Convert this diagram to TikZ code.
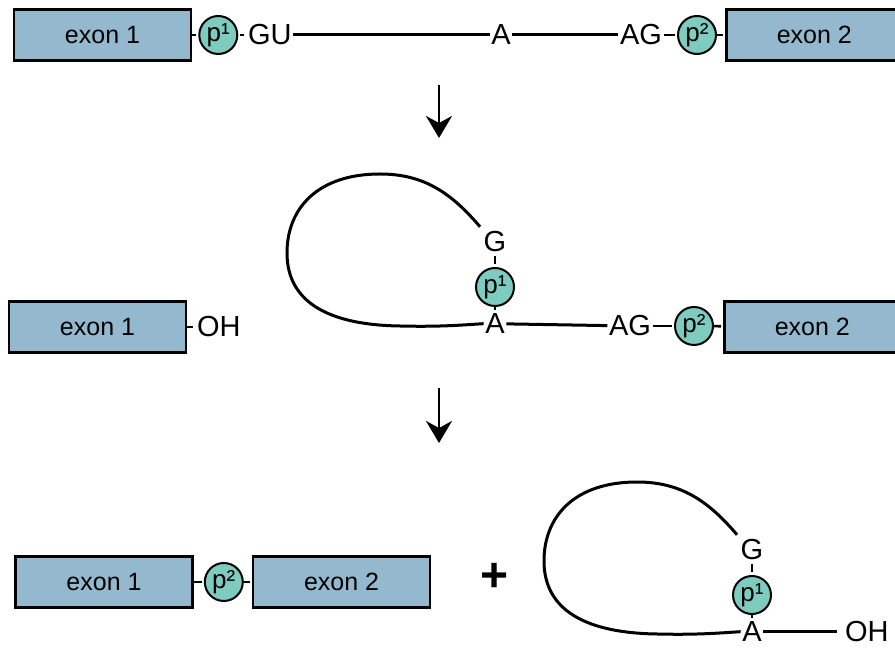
\documentclass[tikz,border=0pt]{standalone}
\usepackage{fontspec}
\setmainfont{Liberation Sans}
\usepackage{xcolor}
\usepackage{tikz}
\usetikzlibrary{positioning,arrows.meta}
\definecolor{exonblue}{RGB}{148,185,206}
\definecolor{phosgreen}{RGB}{126,203,191}

\begin{document}
\begin{tikzpicture}[x=1pt, y=1pt, node distance=8pt,
        exon/.style={draw, rectangle, line width=2.6pt, fill=exonblue, minimum width=177pt, minimum height=51pt, font=\fontsize{25}{30}\selectfont},
        phos/.style={draw, circle, line width=2pt, fill=phosgreen, minimum size=38pt, inner sep=0pt, font=\fontsize{26}{30}\selectfont},
        base/.style={inner sep=1.5pt, font=\fontsize{29}{34}\selectfont},
        strand/.style={line width=3pt},
        bond/.style={line width=2.6pt, shorten >=2pt},
        >={Stealth[length=22pt, width=26pt, inset=7pt]}
    ]
        \useasboundingbox (0,0) rectangle (895,648);

        % pre-mRNA
        \node [exon] (ex1a) at (102.5,613) {exon 1};
        \node [phos, right=6pt of ex1a] (p1a) {p¹};
        \node [base, right=8pt of p1a] (GUa) {GU};
        \node [base] (Aa) at (501,613) {A};
        \node [base] (AGa) at (641,613) {AG};
        \node [phos] (p2a) at (697,613) {p²};
        \node [exon, anchor=west, minimum width=176pt] (ex2a) at (725,613) {exon 2};

        \draw [bond] (ex1a) -- (p1a);
        \draw [bond, shorten <=2pt] (p1a) -- (GUa);
        \draw [strand] (GUa) -- (Aa);
        \draw [strand] (Aa) -- (AGa);
        \draw [bond] (AGa) -- (p2a);
        \draw [bond] (p2a) -- (ex2a);

        \coordinate (s1) at (439,563);
        \coordinate (e1) at (439,510);
        \draw [->, line width=2.4pt] (s1) -- (e1);

        % lariat intermediate
        \node [exon] (ex1b) at (97.5,321) {exon 1};
        \node [base, right=8pt of ex1b] (OHb) {OH};
        \node [phos] (p1b) at (495,361) {p¹};
        \node [base, above=14pt of p1b] (Gb) {G};
        \node [base, below=5pt of p1b] (Ab) {A};
        \node [base] (AGb) at (630,322) {AG};
        \node [phos] (p2b) at (694,322) {p²};
        \node [exon, anchor=west, minimum width=176pt] (ex2b) at (723,321) {exon 2};

        \draw [bond] (ex1b) -- (OHb);
        \draw [bond, shorten <=3pt, shorten >=3pt] (Gb) -- (p1b);
        \draw [bond] (p1b) -- (Ab);
        \draw [strand] (Ab) -- (AGb);
        \draw [bond] (AGb) -- (p2b);
        \draw [bond] (p2b) -- (ex2b);

        \coordinate (s2) at (439,260);
        \coordinate (e2) at (439,205);
        \draw [->, line width=2.4pt] (s2) -- (e2);

        % products
        \node [exon] (ex1c) at (104,66) {exon 1};
        \node [phos, right=10pt of ex1c] (p2c) {p²};
        \node [exon, right=8pt of p2c] (ex2c) {exon 2};
        \node [font=\fontsize{48}{48}\selectfont\bfseries] (plus) at (495,71) {+};
        \node [phos] (p1c) at (752,53) {p¹};
        \node [base, above=14pt of p1c] (Gc) {G};
        \node [base, below=5pt of p1c] (Ac) {A};
        \node [base, right=80pt of Ac] (OHc) {OH};

        \draw [bond] (ex1c) -- (p2c);
        \draw [bond] (p2c) -- (ex2c);
        \draw [bond, shorten <=3pt, shorten >=3pt] (Gc) -- (p1c);
        \draw [bond] (p1c) -- (Ac);
        \draw [strand, shorten >=6pt] (Ac) -- (OHc);

        % lariat loops
        \foreach \row/\dx/\dy in {b/0/0, c/257/-308}
            \draw [strand, shift={(\dx,\dy)}, shorten <=3pt] (G\row.north west)
                .. controls (452,454) and (425,474) .. (380,474)
                .. controls (318,474) and (287,440) .. (287,395)
                .. controls (287,345) and (330,323) .. (400,322)
                .. controls (440,321) and (462,323) .. (A\row.west);
    \end{tikzpicture}
\end{document}
